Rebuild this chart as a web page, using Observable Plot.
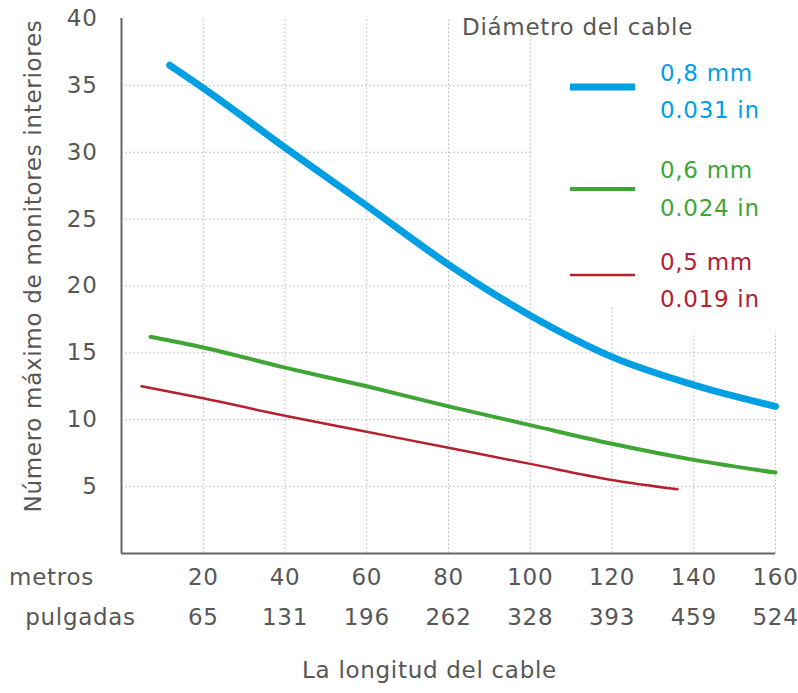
<!DOCTYPE html>
<html><head><meta charset="utf-8">
<script src="https://cdn.jsdelivr.net/npm/d3@7"></script>
<script src="https://cdn.jsdelivr.net/npm/@observablehq/plot@0.6"></script>
<style>body{margin:0;background:#fff}</style>
</head><body><div id="chart"></div>
<script>
const xMetros = [20, 40, 60, 80, 100, 120, 140, 160];
const xPulgadas = [65, 131, 196, 262, 328, 393, 459, 524];
const yTicks = [5, 10, 15, 20, 25, 30, 35, 40];
const blueX = [11.8, 20, 40, 60, 80, 100, 120, 140, 160];
const blueY = [36.5, 34.8, 30.35, 26.0, 21.6, 17.8, 14.7, 12.6, 11.0];
const greenX = [7.1, 20, 40, 60, 80, 100, 120, 140, 160];
const greenY = [16.2, 15.4, 13.9, 12.5, 11.0, 9.6, 8.2, 7.0, 6.05];
const redX = [4.9, 20, 40, 60, 80, 100, 120, 136];
const redY = [12.5, 11.6, 10.3, 9.1, 7.9, 6.7, 5.5, 4.8];
const seriesMm = ["0,8 mm", "0,6 mm", "0,5 mm"];
const seriesIn = ["0.031 in", "0.024 in", "0.019 in"];
const vGridTop = [40, 40, 40, 40, 40, 18.4, 16.5, 16.5];
const hGridY = [5, 10, 15, 20, 25, 30, 35];
const hGridEnd = [160, 160, 160, 100, 100, 100, 100];

const colors = ["#009FE3", "#3FA535", "#B5202E"];
const widths = [7, 4, 2.5];
const textGray = "#575756";
const FONT = "'DejaVu Sans', sans-serif";

const blue = blueX.map((x, i) => ({x, y: blueY[i]}));
const green = greenX.map((x, i) => ({x, y: greenY[i]}));
const red = redX.map((x, i) => ({x, y: redY[i]}));

const grid = {stroke: "#b5b5b5", strokeWidth: 1, strokeDasharray: "1.5,2.5"};

const plot = Plot.plot({
  width: 798, height: 693,
  marginLeft: 121, marginRight: 23, marginTop: 18, marginBottom: 140,
  x: {domain: [0, 160], axis: null},
  y: {domain: [0, 40], axis: null},
  style: {fontFamily: FONT, fontSize: "23px", letterSpacing: "0.7px", color: textGray, background: "#fff"},
  marks: [
    Plot.ruleX(xMetros, {x: d => d, y1: 0, y2: (d, i) => vGridTop[i], ...grid}),
    Plot.ruleY(hGridY, {y: d => d, x1: 0, x2: (d, i) => hGridEnd[i], ...grid}),
    Plot.line(red, {x: "x", y: "y", curve: "monotone-x", stroke: colors[2], strokeWidth: widths[2]}),
    Plot.line(green, {x: "x", y: "y", curve: "monotone-x", stroke: colors[1], strokeWidth: widths[1]}),
    Plot.line(blue, {x: "x", y: "y", curve: "monotone-x", stroke: colors[0], strokeWidth: widths[0]}),
    Plot.ruleX([0], {stroke: "#666", strokeWidth: 2}),
    Plot.ruleY([0], {stroke: "#666", strokeWidth: 2}),
    Plot.text(yTicks, {x: 0, y: d => d, text: d => String(d), textAnchor: "end", dx: -24, fill: textGray}),
    Plot.text(xMetros, {x: d => d, y: 0, dy: 24, text: d => String(d), fill: textGray}),
    Plot.text(xPulgadas, {x: (d, i) => xMetros[i], y: 0, dy: 64, text: d => String(d), fill: textGray}),
    Plot.text(["metros"], {x: 0, y: 0, dx: -70, dy: 24, text: d => d, fill: textGray}),
    Plot.text(["pulgadas"], {x: 0, y: 0, dx: -41, dy: 64, text: d => d, fill: textGray}),
    Plot.text(["La longitud del cable"], {frameAnchor: "bottom", textAnchor: "middle", dx: -19, dy: 124, text: d => d, fill: textGray}),
    Plot.text(["Número máximo de monitores interiores"], {frameAnchor: "left", textAnchor: "middle", rotate: -90, dx: -88, dy: -20, text: d => d, fill: textGray})
  ]
});

// Legend, drawn inside the plot area
const svg = d3.select(plot);
const lg = svg.append("g").attr("font-family", FONT).attr("font-size", 23)
  .attr("letter-spacing", "0.7px").attr("text-anchor", "start");
lg.append("text").attr("x", 462).attr("y", 27).attr("dy", "0.35em").attr("fill", textGray).text("Diámetro del cable");
const rowY = [[73, 87, 110], [170, 189, 208], [262, 275, 299]];
seriesMm.forEach((s, i) => {
  const [ty1, ly, ty2] = rowY[i];
  lg.append("line").attr("x1", 570).attr("x2", 635).attr("y1", ly).attr("y2", ly)
    .attr("stroke", colors[i]).attr("stroke-width", widths[i]);
  lg.append("text").attr("x", 660).attr("y", ty1).attr("dy", "0.35em").attr("fill", colors[i]).text(s);
  lg.append("text").attr("x", 660).attr("y", ty2).attr("dy", "0.35em").attr("fill", colors[i]).text(seriesIn[i]);
});

document.getElementById("chart").appendChild(plot);
</script>
</body></html>
